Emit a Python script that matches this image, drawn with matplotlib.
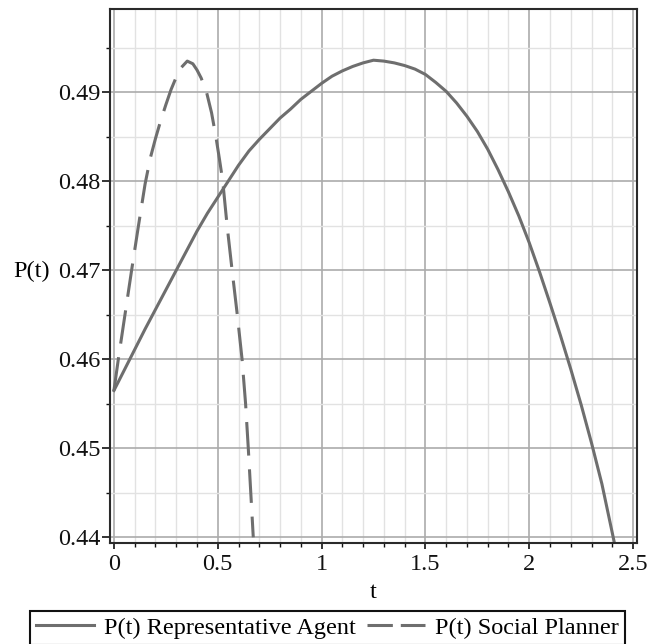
import matplotlib
matplotlib.use('Agg')
import matplotlib.pyplot as plt
from matplotlib.lines import Line2D
from matplotlib.ticker import MultipleLocator

plt.rcParams['font.family'] = ['Liberation Serif', 'DejaVu Serif']

# P(t) Representative Agent
t_agent = [0, 0.05, 0.1, 0.15, 0.2, 0.25, 0.3, 0.35, 0.4, 0.45, 0.5, 0.55, 0.6, 0.65,
           0.7, 0.75, 0.8, 0.85, 0.9, 0.95, 1.0, 1.05, 1.1, 1.15, 1.2, 1.25, 1.3, 1.35,
           1.4, 1.45, 1.5, 1.55, 1.6, 1.65, 1.7, 1.75, 1.8, 1.85, 1.9, 1.95, 2.0, 2.05,
           2.1, 2.15, 2.2, 2.25, 2.3, 2.35, 2.4, 2.41]
p_agent = [0.4565, 0.4588, 0.4611, 0.4634, 0.4656, 0.4678, 0.4700, 0.4722, 0.4744, 0.4764,
           0.4782, 0.4800, 0.4818, 0.4834, 0.4847, 0.4859, 0.4871, 0.4881, 0.4892, 0.4901,
           0.4910, 0.4918, 0.4924, 0.4929, 0.4933, 0.4936, 0.4935, 0.4933, 0.4930, 0.4926,
           0.4920, 0.4911, 0.4901, 0.4888, 0.4873, 0.4856, 0.4836, 0.4813, 0.4788, 0.4761,
           0.4731, 0.4698, 0.4663, 0.4627, 0.4589, 0.4549, 0.4506, 0.4460, 0.4405, 0.4394]

# P(t) Social Planner
t_planner = [0, 0.021, 0.053, 0.085, 0.118, 0.150, 0.175, 0.200, 0.225, 0.250, 0.275,
             0.300, 0.325, 0.353, 0.380, 0.400, 0.420, 0.446, 0.470, 0.491, 0.508, 0.524,
             0.545, 0.569, 0.594, 0.617, 0.634, 0.647, 0.659, 0.671]
p_planner = [0.4565, 0.46, 0.465, 0.47, 0.475, 0.4797, 0.4826, 0.4848, 0.4868, 0.4886, 0.4903,
             0.4917, 0.4928, 0.4935, 0.4932, 0.4925, 0.4916, 0.49, 0.4877, 0.485, 0.4825, 0.48,
             0.475, 0.47, 0.465, 0.46, 0.455, 0.45, 0.445, 0.44]

labels = ['P(t) Representative Agent', 'P(t) Social Planner']
line_color = '#6e6e6e'
fs = 17.5

fig = plt.figure(figsize=(6.49, 6.44), dpi=100)
ax = fig.add_axes([0.1695, 0.1573, 0.812, 0.828])

ax.plot(t_agent, p_agent, color=line_color, lw=2.2)
ax.plot(t_planner, p_planner, color=line_color, lw=2.2, linestyle=(0, (11, 4.5)))

ax.set_xlim(-0.019, 2.519)
ax.set_ylim(0.4394, 0.4993)

ax.xaxis.set_minor_locator(MultipleLocator(0.1))
ax.yaxis.set_minor_locator(MultipleLocator(0.005))
ax.set_xticks([0, 0.5, 1, 1.5, 2, 2.5], ['0', '0.5', '1', '1.5', '2', '2.5'])
ax.set_yticks([0.44, 0.45, 0.46, 0.47, 0.48, 0.49], ['0.44', '0.45', '0.46', '0.47', '0.48', '0.49'])

ax.grid(which='major', color='#ababab', lw=1.2)
ax.grid(which='minor', color='#e2e2e2', lw=1.0)
ax.set_axisbelow(True)

for s in ax.spines.values():
    s.set_linewidth(1.5)
    s.set_color('#2a2a2a')

ax.tick_params(axis='both', which='major', labelsize=fs, direction='out', width=1.2, colors='#111111')
ax.tick_params(axis='x', which='major', length=4, pad=4)
ax.tick_params(axis='y', which='major', length=6, pad=1)
ax.tick_params(axis='both', which='minor', direction='out', length=3, width=1.0, color='#111111')

ax.set_xlabel('t', fontsize=fs, va='center')
ax.set_ylabel('P(t)', fontsize=fs, rotation=0, ha='center', va='center')
ax.xaxis.set_label_coords(0.499, -0.0925)
ax.yaxis.set_label_coords(-0.148, 0.508)

# legend handles: the dashed one shows two even dashes as in the original
h1 = Line2D([], [], color=line_color, lw=2.2)
h2 = Line2D([], [], color=line_color, lw=2.2, linestyle=(0, (8.3, 2.6)))
leg = fig.legend(handles=[h1, h2], labels=labels, loc='upper center', bbox_to_anchor=(0.5046, 0.0517),
                 ncol=2, fontsize=fs, frameon=True, fancybox=False, framealpha=1,
                 edgecolor='#111111', handlelength=2.4, handletextpad=0.4, columnspacing=0.45,
                 borderpad=0.25, borderaxespad=0)
leg.get_frame().set_linewidth(1.5)

fig.savefig('out.png', dpi=100)
